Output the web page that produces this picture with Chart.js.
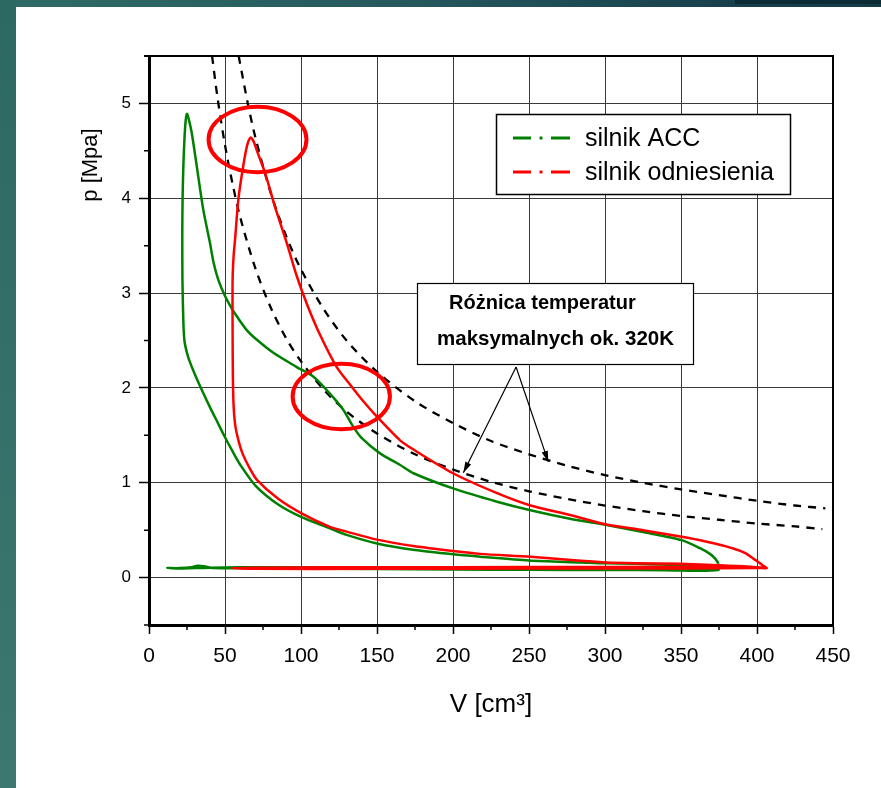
<!DOCTYPE html>
<html><head><meta charset="utf-8">
<script src="https://cdn.jsdelivr.net/npm/chart.js@4.4.0/dist/chart.umd.min.js"></script>
<style>
html,body{margin:0;padding:0;width:881px;height:788px;overflow:hidden;}
body{position:relative;background:linear-gradient(to right,#2f6c66 0%,#26595d 45%,#173f4b 85%,#143a46 100%);}
#left{position:absolute;left:0;top:0;width:16px;height:788px;background:linear-gradient(to bottom,#2d6963,#3c786f);}
#topbar{position:absolute;left:735px;top:0;width:146px;height:4px;background:#0d2b35;}
#panel{position:absolute;left:16px;top:7px;width:865px;height:781px;background:#fff;}
#wrap{position:absolute;left:0;top:0;width:881px;height:788px;}
</style></head><body>
<div id="left"></div><div id="topbar"></div><div id="panel"></div>
<div id="wrap"><canvas id="c" width="881" height="788"></canvas></div>
<script>
// ---------- data ----------
const xTicks = [0,50,100,150,200,250,300,350,400,450];
const yTicks = [0,1,2,3,4,5];
const xMinor = [25,75,125,175,225,275,325,375,425];
const yMinor = [-0.5,0.5,1.5,2.5,3.5,4.5,5.5];

const seriesNames = ['silnik ACC','silnik odniesienia'];

// silnik ACC (green loop)
const accV = [374.6,374.5,340,300,250,200,150,100,60,42,36,32,28,20,12,
  20,40,80,150,250,330,372,
  365,349,320,300,284,250,218,200,175,150,130,119,100,85,70,60,55,50,45,40,35,30,26.5,24.8,23.3,22.6,22.0,21.9,22.1,22.6,23.4,24.2,25,25.9,28.1,31.4,35.7,40.1,42.5,45.6,50,54.4,58,64.3,70.8,81.8,97.2,108,119,127.8,134,140,152,165,174,200,229,251,277,301,325,350.5,362.5,369,372.5,374.6];
const accP = [0.15,0.08,0.078,0.08,0.082,0.085,0.09,0.095,0.1,0.1,0.12,0.125,0.11,0.1,0.1,
  0.095,0.105,0.11,0.105,0.1,0.095,0.1,
  0.11,0.13,0.145,0.15,0.16,0.18,0.22,0.245,0.29,0.36,0.45,0.52,0.64,0.77,0.97,1.19,1.33,1.48,1.64,1.80,1.97,2.15,2.29,2.38,2.5,2.7,3.14,3.63,4.0,4.34,4.65,4.83,4.89,4.85,4.69,4.34,3.88,3.53,3.32,3.14,2.97,2.84,2.75,2.61,2.51,2.37,2.22,2.12,1.94,1.77,1.6,1.47,1.31,1.19,1.10,0.94,0.80,0.71,0.62,0.553,0.48,0.395,0.31,0.25,0.20,0.15];

// silnik odniesienia (red loop)
const refV = [406.4,380,300,200,120,70,54.4,70,150,250,350,400,406.4,
  395,375,349,320,301,284,251,218,200,175,150,130,119,100,85,71,66,61.5,58.8,56.8,55.7,55.2,55,55,55.7,56.6,58.8,62,64.6,66.9,68.8,70.8,76.3,82.9,90.6,97.2,104,112.5,123.5,134,141,149.8,165,174,200,229,251,277,301,325,350.5,367,384.4,392,397.6,402,406.4];
const refP = [0.10,0.112,0.112,0.11,0.108,0.105,0.1,0.092,0.092,0.095,0.095,0.1,0.1,
  0.115,0.13,0.145,0.152,0.16,0.178,0.22,0.25,0.28,0.33,0.40,0.485,0.535,0.68,0.83,1.03,1.16,1.31,1.45,1.6,1.8,2.1,2.6,3.14,3.4,3.56,3.99,4.34,4.56,4.64,4.6,4.51,4.27,3.91,3.53,3.18,2.88,2.56,2.22,2.0,1.86,1.70,1.45,1.35,1.10,0.89,0.76,0.66,0.56,0.50,0.43,0.377,0.307,0.26,0.20,0.15,0.10];

// dashed reference curves
const dashAV = [59,65,70,80,90,100,115,130,150,175,200,225,250,275,300,325,350,375,400,425,445];
const dashAP = [5.5,5.0,4.64,4.06,3.61,3.25,2.83,2.5,2.17,1.86,1.63,1.44,1.30,1.18,1.08,1.0,0.93,0.87,0.81,0.76,0.73];
const dashBV = [41.5,45,50,55,60,70,80,90,100,115,130,150,175,200,225,250,275,300,325,350,375,400,425,443];
const dashBP = [5.5,5.07,4.56,4.15,3.8,3.26,2.85,2.53,2.28,1.98,1.75,1.52,1.30,1.14,1.01,0.91,0.83,0.76,0.70,0.65,0.61,0.57,0.54,0.51];

// annotations (data coordinates)
const ellipses = [{v:71.4,p:4.62,rv:32.2,rp:0.345},{v:126.5,p:1.91,rv:32,rp:0.345}];
const noteLines = ['Różnica temperatur','maksymalnych ok. 320K'];
const arrowFrom = {v:241.5,p:2.22};
const arrowTips = [{v:206.8,p:1.105},{v:262.7,p:1.22}];

const zip = (a,b)=>a.map((v,i)=>({x:v,y:b[i]}));

const GREEN='#008000', RED='#ff0000';

const overlay = {
  id:'overlay',
  afterDraw(chart){
    const {ctx, chartArea:a, scales:{x,y}} = chart;
    const X=v=>x.getPixelForValue(v), Y=v=>y.getPixelForValue(v);
    ctx.save();
    // top & right frame
    ctx.strokeStyle='#000'; ctx.lineWidth=2;
    ctx.beginPath(); ctx.moveTo(a.left-5,a.top); ctx.lineTo(a.right,a.top); ctx.lineTo(a.right,a.bottom+1); ctx.stroke();
    // minor ticks
    ctx.lineWidth=1.5;
    ctx.beginPath();
    xMinor.forEach(v=>{const px=X(v); ctx.moveTo(px,a.bottom); ctx.lineTo(px,a.bottom+5);});
    yMinor.forEach(v=>{const py=Y(v); ctx.moveTo(a.left,py); ctx.lineTo(a.left-5,py);});
    ctx.stroke();
    // red ellipses
    ctx.strokeStyle=RED; ctx.lineWidth=4;
    ellipses.forEach(e=>{
      const cx=X(e.v), cy=Y(e.p), rx=X(e.v+e.rv)-cx, ry=cy-Y(e.p+e.rp);
      ctx.beginPath(); ctx.ellipse(cx,cy,rx,ry,0,0,Math.PI*2); ctx.stroke();
    });
    // annotation box
    const bx=417, by=283, bw=276, bh=81;
    ctx.fillStyle='#fff'; ctx.fillRect(bx,by,bw,bh);
    ctx.strokeStyle='#000'; ctx.lineWidth=1.2; ctx.strokeRect(bx+0.5,by+0.5,bw,bh);
    ctx.fillStyle='#000'; ctx.font='bold 20px "Liberation Sans", Arial, sans-serif';
    ctx.textBaseline='middle'; ctx.textAlign='left';
    ctx.fillText(noteLines[0],449,303);
    ctx.font='bold 20.5px "Liberation Sans", Arial, sans-serif';
    ctx.fillText(noteLines[1],437,339);
    // arrows
    ctx.lineWidth=1.2; ctx.strokeStyle='#000';
    const sx=X(arrowFrom.v), sy=Y(arrowFrom.p);
    arrowTips.forEach(t=>{
      const tx=X(t.v), ty=Y(t.p);
      ctx.beginPath(); ctx.moveTo(sx,sy); ctx.lineTo(tx,ty); ctx.stroke();
      const ang=Math.atan2(ty-sy,tx-sx), L=11, W=3.2;
      ctx.beginPath(); ctx.moveTo(tx,ty);
      ctx.lineTo(tx-L*Math.cos(ang)+W*Math.sin(ang), ty-L*Math.sin(ang)-W*Math.cos(ang));
      ctx.lineTo(tx-L*Math.cos(ang)-W*Math.sin(ang), ty-L*Math.sin(ang)+W*Math.cos(ang));
      ctx.closePath(); ctx.fill();
    });
    // legend
    const lx=496, ly=114, lw=294, lh=80;
    ctx.fillStyle='#fff'; ctx.fillRect(lx,ly,lw,lh);
    ctx.strokeStyle='#000'; ctx.lineWidth=1.5; ctx.strokeRect(lx+0.5,ly+0.5,lw,lh);
    const cols=[GREEN,RED], rows=[138,172];
    ctx.font='25px "Liberation Sans", Arial, sans-serif';
    rows.forEach((ry,i)=>{
      ctx.strokeStyle=cols[i]; ctx.lineWidth=3;
      ctx.beginPath(); ctx.moveTo(513,ry); ctx.lineTo(531,ry); ctx.moveTo(539.5,ry); ctx.lineTo(542.5,ry); ctx.moveTo(551,ry); ctx.lineTo(570,ry); ctx.stroke();
      ctx.fillStyle='#000'; ctx.fillText(seriesNames[i],585,ry+1);
    });
    // y title
    ctx.save();
    ctx.translate(91,165); ctx.rotate(-Math.PI/2);
    ctx.font='22px "Liberation Sans", Arial, sans-serif'; ctx.textAlign='center'; ctx.textBaseline='middle';
    ctx.fillText('p [Mpa]',0,0);
    ctx.restore();
    ctx.restore();
  }
};

new Chart(document.getElementById('c'),{
  type:'scatter',
  data:{datasets:[
    {label:seriesNames[1],data:zip(refV,refP),showLine:true,borderColor:RED,borderWidth:2.5,pointRadius:0,tension:0.25},
    {label:seriesNames[0],data:zip(accV,accP),showLine:true,borderColor:GREEN,borderWidth:2.5,pointRadius:0,tension:0.25},
    {label:'a',data:zip(dashAV,dashAP),showLine:true,borderColor:'#000',borderWidth:2.3,borderDash:[8,7],pointRadius:0,tension:0.3},
    {label:'b',data:zip(dashBV,dashBP),showLine:true,borderColor:'#000',borderWidth:2.3,borderDash:[8,7],pointRadius:0,tension:0.3}
  ]},
  options:{
    responsive:false, animation:false, devicePixelRatio:1,
    layout:{padding:{left:0,top:56,right:48,bottom:0}},
    plugins:{legend:{display:false},tooltip:{enabled:false}},
    scales:{
      x:{type:'linear',min:0,max:450,
        afterBuildTicks:s=>{s.ticks=xTicks.map(v=>({value:v}));},
        afterFit:s=>{s.height=163;},
        grid:{color:'#3a3a3a',lineWidth:1,tickLength:9,tickColor:'#000',tickWidth:1.5},
        border:{color:'#000',width:3},
        ticks:{color:'#000',padding:10,maxRotation:0,font:{family:'"Liberation Sans Narrow", "Liberation Sans", Arial',size:21}},
        title:{display:true,text:'V [cm³]',color:'#000',font:{family:'"Liberation Sans Narrow", "Liberation Sans", Arial',size:26},padding:{top:0,bottom:68}}
      },
      y:{type:'linear',min:-0.5,max:5.5,
        afterBuildTicks:s=>{s.ticks=yTicks.map(v=>({value:v}));},
        afterFit:s=>{s.width=149;},
        grid:{color:'#3a3a3a',lineWidth:1,tickLength:10,tickColor:'#000',tickWidth:1.5},
        border:{color:'#000',width:3},
        ticks:{color:'#000',padding:8,font:{family:'"Liberation Sans", Arial',size:17}}
      }
    }
  },
  plugins:[overlay]
});
</script></body></html>
